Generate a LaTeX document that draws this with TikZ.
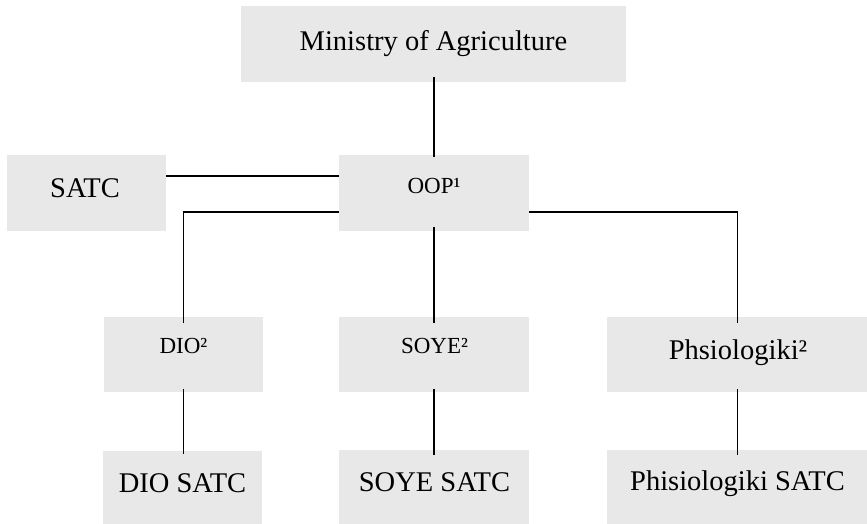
\documentclass[tikz,border=0pt]{standalone}
\usepackage{fontspec}
\setmainfont{Liberation Serif}
\definecolor{boxgray}{RGB}{232,232,232}
\tikzset{
  orgbox/.style={rectangle, fill=boxgray, draw=none, inner sep=0pt},
  bigtxt/.style={anchor=base, inner sep=0pt, font=\fontsize{28.5}{31}\selectfont},
  smalltxt/.style={anchor=base, inner sep=0pt, font=\fontsize{23}{26}\selectfont},
  conn/.style={line width=1.4pt, black},
}
\begin{document}
\begin{tikzpicture}[x=1pt,y=-1pt]
\useasboundingbox (0,0) rectangle (867,523);
\clip (0,0) rectangle (867,523);
% boxes
\node[orgbox, minimum width=385pt, minimum height=76pt] (mini) at (433.5,44) {};
\node[orgbox, minimum width=159pt, minimum height=76pt] (satc) at (86.5,193) {};
\node[orgbox, minimum width=190pt, minimum height=76pt] (oop) at (434,193) {};
\node[orgbox, minimum width=159pt, minimum height=75pt] (dio) at (183.5,354.5) {};
\node[orgbox, minimum width=190pt, minimum height=75pt] (soye) at (434,354.5) {};
\node[orgbox, minimum width=262pt, minimum height=75pt] (phs) at (737.5,354.5) {};
\node[orgbox, minimum width=159pt, minimum height=74pt] (diosatc) at (182.5,488) {};
\node[orgbox, minimum width=190pt, minimum height=75pt] (soyesatc) at (434,487.5) {};
\node[orgbox, minimum width=262pt, minimum height=75pt] (phssatc) at (737.5,487.5) {};
% texts
\node[bigtxt] (t-mini) at (433.5,50) {Ministry of Agriculture};
\node[bigtxt] (t-satc) at (85,197) {SATC};
\node[smalltxt] (t-oop) at (434,193) {OOP¹};
\node[smalltxt] (t-dio) at (183.5,353) {DIO²};
\node[smalltxt] (t-soye) at (434.5,353) {SOYE²};
\node[bigtxt] (t-phs) at (738,359) {Phsiologiki²};
\node[bigtxt] (t-diosatc) at (182.5,492) {DIO SATC};
\node[bigtxt] (t-soyesatc) at (434.5,491) {SOYE SATC};
\node[bigtxt] (t-phssatc) at (737.5,490) {Phisiologiki SATC};
% connectors
\draw[conn, shorten <=-5pt, shorten >=-2pt] (oop.north |- mini.south) -- (oop.north);
\draw[conn] ([yshift=17pt]satc.east) -- ([yshift=17pt]oop.west);
\draw[conn, shorten >=-6pt] ([yshift=-19pt]oop.west) -| (dio.north);
\draw[conn, shorten >=-6pt] ([yshift=-19pt]oop.east) -| (phs.north);
\draw[conn, shorten <=-4pt, shorten >=-6pt] (oop.south) -- (soye.north);
\draw[conn, shorten <=-3pt, shorten >=-3pt] (dio.south) -- (dio.south |- diosatc.north);
\draw[conn, shorten <=-3pt, shorten >=-5pt] (soye.south) -- (soyesatc.north);
\draw[conn, shorten <=-3pt, shorten >=-5pt] (phs.south) -- (phssatc.north);
\end{tikzpicture}
\end{document}
